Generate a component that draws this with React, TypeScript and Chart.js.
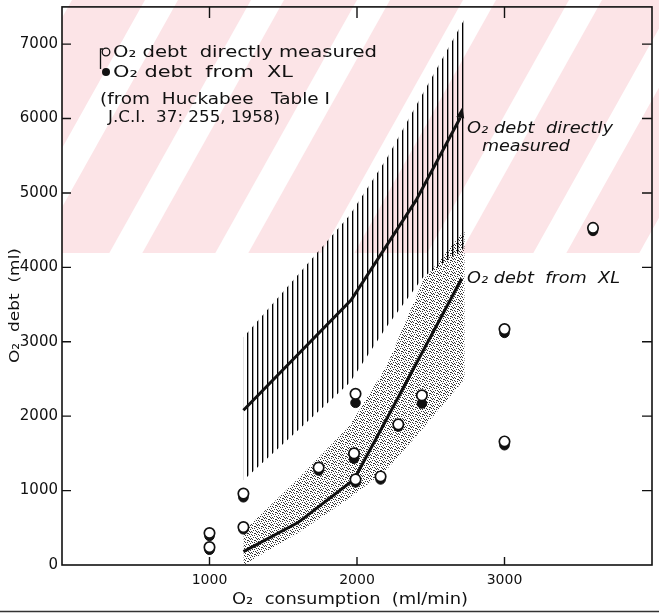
import React, { useEffect, useRef } from 'react';
import { Chart, registerables } from 'chart.js';

Chart.register(...registerables);

const W = 659;
const H = 615;

// ---- data ----
const pointX = [1000, 1000, 1230, 1230, 1740, 1990, 1980, 1990, 2160, 2280, 2440, 3000, 3000, 3600];
const measuredY = [430, 240, 960, 510, 1310, 2300, 1500, 1150, 1190, 1890, 2280, 3170, 1660, 4530];
const xlY = [390, 205, 910, 480, 1270, 2180, 1430, 1110, 1150, 1860, 2170, 3120, 1610, 4490];

const directLineX = [1230, 1960, 2400, 2700];
const directLineY = [2080, 3560, 4900, 6010];
const xlLineX = [1230, 1600, 1980, 2160, 2500, 2710];
const xlLineY = [180, 570, 1150, 1810, 3070, 3850];

const hatchX = [1230, 1600, 1950, 2200, 2450, 2730];
const hatchTop = [3060, 3900, 4700, 5460, 6350, 7340];
const hatchBottom = [1140, 1810, 2450, 3200, 3870, 4260];

const stippleX = [1230, 1600, 1950, 2200, 2450, 2730];
const stippleTop = [450, 1160, 1870, 2670, 3830, 4500];
const stippleBottom = [0, 430, 900, 1280, 1840, 2500];

const xTickValues = [1000, 2000, 3000];
const yTickValues = [0, 1000, 2000, 3000, 4000, 5000, 6000, 7000];

const xy = (xs: number[], ys: number[]) => xs.map((x, i) => ({ x, y: ys[i] }));

function makeHatch(): CanvasPattern | string {
  const c = document.createElement('canvas');
  c.width = 5;
  c.height = 4;
  const g = c.getContext('2d');
  if (!g) return '#555';
  g.fillStyle = '#000';
  g.fillRect(2, 0, 1, 4);
  g.fillStyle = 'rgba(0,0,0,0.35)';
  g.fillRect(3, 0, 1, 4);
  return g.createPattern(c, 'repeat') || '#555';
}

function makeStipple(): CanvasPattern | string {
  const c = document.createElement('canvas');
  c.width = 7;
  c.height = 7;
  const g = c.getContext('2d');
  if (!g) return '#aaa';
  const dots = [[0, 0], [3, 1], [5, 4], [1, 5], [6, 2], [2, 3], [4, 6], [5, 0], [0, 3], [3, 5], [6, 6], [2, 1], [4, 2]];
  g.fillStyle = 'rgba(0,0,0,0.8)';
  dots.forEach(([a, b]) => g.fillRect(a, b, 1, 1));
  return g.createPattern(c, 'repeat') || '#aaa';
}

function fitText(ctx: CanvasRenderingContext2D, text: string, x: number, y: number, w: number, font: string) {
  ctx.font = font;
  const m = ctx.measureText(text).width;
  ctx.save();
  ctx.translate(x, y);
  ctx.scale(w / m, 1);
  ctx.textAlign = 'left';
  ctx.textBaseline = 'alphabetic';
  ctx.fillText(text, 0, 0);
  ctx.restore();
}

const backgroundPlugin = {
  id: 'paperBackground',
  beforeDraw(chart: any) {
    const ctx: CanvasRenderingContext2D = chart.ctx;
    ctx.save();
    ctx.fillStyle = '#ffffff';
    ctx.fillRect(0, 0, W, H);
    ctx.beginPath();
    ctx.rect(62, 0, W - 62, 253);
    ctx.clip();
    ctx.fillStyle = '#fce4e7';
    ctx.fillRect(62, 0, W - 62, 253);
    ctx.fillStyle = '#ffffff';
    for (let k = -6; k < 8; k++) {
      const x0 = 457 + 106 * k;
      ctx.beginPath();
      ctx.moveTo(x0 + 0.56 * 200, 0);
      ctx.lineTo(x0 + 33 + 0.56 * 200, 0);
      ctx.lineTo(x0 + 33 - 0.56 * 53, 253);
      ctx.lineTo(x0 - 0.56 * 53, 253);
      ctx.closePath();
      ctx.fill();
    }
    ctx.restore();
  },
};

const overlayPlugin = {
  id: 'overlay',
  afterDraw(chart: any) {
    const ctx: CanvasRenderingContext2D = chart.ctx;
    const xs = chart.scales.x;
    const ys = chart.scales.y;
    const { left, right, top, bottom } = chart.chartArea;
    ctx.save();
    ctx.strokeStyle = '#111';
    ctx.fillStyle = '#111';
    // frame
    ctx.lineWidth = 1.6;
    ctx.strokeRect(left, top, right - left, bottom - top);
    // ticks, all inward
    ctx.lineWidth = 1.4;
    ctx.beginPath();
    xTickValues.forEach((v) => {
      const px = xs.getPixelForValue(v);
      ctx.moveTo(px, bottom);
      ctx.lineTo(px, bottom - 8);
      ctx.moveTo(px, top);
      ctx.lineTo(px, top + 11);
    });
    yTickValues.forEach((v) => {
      if (v === 0) return;
      const py = ys.getPixelForValue(v);
      ctx.moveTo(left, py);
      ctx.lineTo(left + 9, py);
      ctx.moveTo(right, py);
      ctx.lineTo(right - 10, py);
    });
    ctx.stroke();

    // y tick labels
    ctx.font = '15px "DejaVu Sans"';
    ctx.textAlign = 'right';
    ctx.textBaseline = 'middle';
    yTickValues.forEach((v) => {
      ctx.fillText(String(v), left - 4, ys.getPixelForValue(v));
    });

    // scan edge at the bottom
    ctx.strokeStyle = '#333';
    ctx.lineWidth = 1.5;
    ctx.beginPath();
    ctx.moveTo(0, 611.5);
    ctx.lineTo(W, 611.5);
    ctx.stroke();

    // arrowhead at the end of the "directly measured" curve
    const n = directLineX.length;
    const ex = xs.getPixelForValue(directLineX[n - 1]);
    const ey = ys.getPixelForValue(directLineY[n - 1]);
    let dx = 0.2, dy = -1;
    const len = Math.hypot(dx, dy);
    dx /= len; dy /= len;
    const tipX = ex + dx * 11, tipY = ey + dy * 11;
    ctx.fillStyle = '#111';
    ctx.beginPath();
    ctx.moveTo(tipX, tipY);
    ctx.lineTo(ex - dy * 4, ey + dx * 4);
    ctx.lineTo(ex + dy * 4, ey - dx * 4);
    ctx.closePath();
    ctx.fill();

    // legend block
    ctx.fillStyle = '#111';
    ctx.strokeStyle = '#111';
    ctx.lineWidth = 1.3;
    ctx.beginPath();
    ctx.arc(106, 52, 3.8, 0, Math.PI * 2);
    ctx.stroke();
    ctx.beginPath();
    ctx.arc(106, 72, 4, 0, Math.PI * 2);
    ctx.fill();
    ctx.beginPath();
    ctx.moveTo(103, 49);
    ctx.lineTo(100.5, 49);
    ctx.lineTo(100.5, 69);
    ctx.stroke();

    const f = '15px "DejaVu Sans"';
    fitText(ctx, 'O₂ debt  directly measured', 113, 57, 264, f);
    fitText(ctx, 'O₂ debt  from  XL', 113, 77, 180, f);
    fitText(ctx, '(from  Huckabee   Table I', 100, 104, 230, f);
    fitText(ctx, 'J.C.I.  37: 255, 1958)', 108, 122, 172, f);

    const fi = 'italic 15px "DejaVu Sans"';
    fitText(ctx, 'O₂ debt  directly', 467, 133, 146, fi);
    fitText(ctx, 'measured', 482, 151, 88, fi);
    fitText(ctx, 'O₂ debt  from  XL', 467, 283, 153, fi);

    // axis titles
    fitText(ctx, 'O₂  consumption  (ml/min)', 232, 604, 236, '15px "DejaVu Sans"');
    ctx.save();
    ctx.translate(19, 363);
    ctx.rotate(-Math.PI / 2);
    fitText(ctx, 'O₂  debt  (ml)', 0, 0, 115, '14px "DejaVu Sans"');
    ctx.restore();

    ctx.restore();
  },
};

export default function App() {
  const ref = useRef<HTMLCanvasElement | null>(null);

  useEffect(() => {
    if (!ref.current) return;
    const hatch = makeHatch();
    const stipple = makeStipple();
    const chart = new Chart(ref.current, {
      type: 'line',
      data: {
        datasets: [
          {
            label: 'O₂ debt directly measured',
            data: xy(pointX, measuredY),
            showLine: false,
            pointStyle: 'circle',
            pointRadius: 5.2,
            pointBackgroundColor: '#ffffff',
            pointBorderColor: '#111',
            pointBorderWidth: 1.7,
            order: 0,
          },
          {
            label: 'O₂ debt from XL',
            data: xy(pointX, xlY),
            showLine: false,
            pointStyle: 'circle',
            pointRadius: 4.8,
            pointBackgroundColor: '#111',
            pointBorderColor: '#111',
            pointBorderWidth: 1,
            order: 1,
          },
          {
            label: 'directly measured curve',
            data: xy(directLineX, directLineY),
            borderColor: '#111',
            borderWidth: 3,
            pointRadius: 0,
            fill: false,
            tension: 0,
            order: 2,
          },
          {
            label: 'from XL curve',
            data: xy(xlLineX, xlLineY),
            borderColor: '#111',
            borderWidth: 3,
            pointRadius: 0,
            fill: false,
            tension: 0,
            order: 3,
          },
          {
            label: 'stipple top',
            data: xy(stippleX, stippleTop),
            borderWidth: 0,
            borderColor: 'rgba(0,0,0,0)',
            pointRadius: 0,
            backgroundColor: stipple as any,
            fill: '+1',
            order: 6,
          },
          {
            label: 'stipple bottom',
            data: xy(stippleX, stippleBottom),
            borderWidth: 0,
            borderColor: 'rgba(0,0,0,0)',
            pointRadius: 0,
            fill: false,
            order: 7,
          },
          {
            label: 'hatch top',
            data: xy(hatchX, hatchTop),
            borderWidth: 0,
            borderColor: 'rgba(0,0,0,0)',
            pointRadius: 0,
            backgroundColor: hatch as any,
            fill: '+1',
            order: 4,
          },
          {
            label: 'hatch bottom',
            data: xy(hatchX, hatchBottom),
            borderWidth: 0,
            borderColor: 'rgba(0,0,0,0)',
            pointRadius: 0,
            fill: false,
            order: 5,
          },
        ],
      },
      options: {
        responsive: false,
        animation: false,
        devicePixelRatio: 1,
        layout: { padding: { top: 6, right: 4, left: 0, bottom: 0 } },
        plugins: {
          legend: { display: false },
          tooltip: { enabled: false },
        },
        scales: {
          x: {
            type: 'linear',
            min: 0,
            max: 4000,
            afterFit: (s: any) => { s.height = 50; },
            grid: { display: false, drawTicks: false },
            border: { display: false },
            ticks: {
              stepSize: 1000,
              autoSkip: false,
              maxRotation: 0,
              padding: 7,
              color: '#111',
              font: { family: 'DejaVu Sans', size: 14 },
              callback: (v: any) => (xTickValues.includes(Number(v)) ? String(v) : ''),
            },
          },
          y: {
            type: 'linear',
            min: 0,
            max: 7500,
            afterFit: (s: any) => { s.width = 62; },
            grid: { display: false, drawTicks: false },
            border: { display: false },
            ticks: { display: false, stepSize: 1000 },
          },
        },
      },
      plugins: [backgroundPlugin, overlayPlugin],
    });
    return () => chart.destroy();
  }, []);

  return (
    <div style={{ position: 'fixed', left: 0, top: 0, width: W, height: H, background: '#fff' }}>
      <canvas ref={ref} width={W} height={H} style={{ display: 'block', width: W, height: H }} />
    </div>
  );
}
